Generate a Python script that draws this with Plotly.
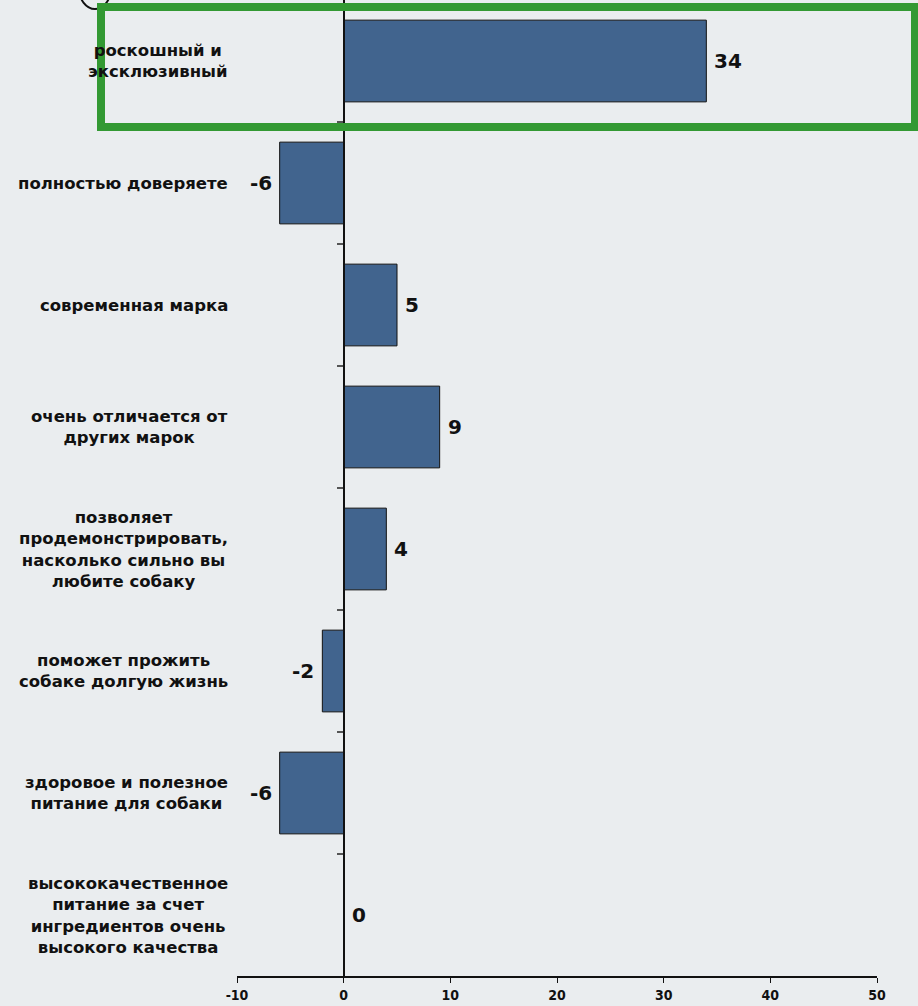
import plotly.graph_objects as go

categories = [
    "роскошный и<br>эксклюзивный",
    "полностью доверяете",
    "современная марка",
    "очень отличается от<br>других марок",
    "позволяет<br>продемонстрировать,<br>насколько сильно вы<br>любите собаку",
    "поможет прожить<br>собаке долгую жизнь",
    "здоровое и полезное<br>питание для собаки",
    "высококачественное<br>питание за счет<br>ингредиентов очень<br>высокого качества",
]
values = [34, -6, 5, 9, 4, -2, -6, 0]
x_ticks = [-10, 0, 10, 20, 30, 40, 50]
x_tick_labels = ["-10", "0", "10", "20", "30", "40", "50"]

BG = "#EAEDEF"
BAR = "#41648E"
W, H = 918, 1006
L, R, T, B = 237, 41, 0, 30
PW, PH = W - L - R, H - T - B

idx = list(range(len(categories)))

fig = go.Figure()
fig.add_trace(go.Bar(
    x=values, y=idx, orientation="h", width=0.67,
    marker=dict(color=BAR, line=dict(color="#111111", width=1)),
    hoverinfo="skip", showlegend=False,
))
# invisible trace to carry the zero-line axis with category boundary ticks
fig.add_trace(go.Scatter(x=[0], y=[0], yaxis="y2", mode="markers",
                         marker=dict(opacity=0), showlegend=False, hoverinfo="skip"))

annotations = []
for i, (c, v) in enumerate(zip(categories, values)):
    annotations.append(dict(
        x=0, xref="paper", y=i, yref="y", text=c, showarrow=False,
        xanchor="right", yanchor="middle", align="center", xshift=-7,
        font=dict(family="DejaVu Sans", size=16.5, color="#111111", weight="bold"),
    ))
    annotations.append(dict(
        x=v, xref="x", y=i, yref="y", text=str(v), showarrow=False,
        xanchor="right" if v < 0 else "left", yanchor="middle",
        xshift=-6 if v < 0 else 6,
        font=dict(family="DejaVu Sans", size=20, color="#111111", weight="bold"),
    ))

def px_x(p):
    return (p - L) / PW

def px_y(p):
    return 1 - (p - T) / PH

shapes = [
    dict(type="circle", xref="paper", yref="paper",
         x0=px_x(79), x1=px_x(111), y0=px_y(9), y1=px_y(-33),
         line=dict(color="#111111", width=2), layer="above"),
    dict(type="rect", xref="paper", yref="paper",
         x0=px_x(101), x1=px_x(915), y0=px_y(127), y1=px_y(7),
         line=dict(color="#339933", width=8), fillcolor="rgba(0,0,0,0)", layer="above"),
]

fig.update_layout(
    width=W, height=H,
    margin=dict(l=L, r=R, t=T, b=B, pad=0),
    paper_bgcolor=BG, plot_bgcolor=BG,
    showlegend=False,
    xaxis=dict(range=[-10, 50], tickvals=x_ticks, ticktext=x_tick_labels,
               showgrid=False, zeroline=False,
               showline=True, linecolor="#111111", linewidth=2,
               ticks="outside", ticklen=5, tickcolor="#111111", tickwidth=1,
               tickfont=dict(family="Liberation Sans Narrow, DejaVu Sans Condensed", size=14,
                             color="#111111", weight="bold"),
               fixedrange=True),
    yaxis=dict(range=[len(categories) - 0.5, -0.5], showticklabels=False, showgrid=False,
               zeroline=False, showline=False, ticks="", fixedrange=True),
    yaxis2=dict(overlaying="y", anchor="free", position=px_x(L + PW * 10 / 60),
                range=[len(categories) - 0.5, -0.5],
                tickvals=[i + 0.5 for i in idx[:-1]], showticklabels=False,
                ticks="outside", ticklen=6, tickcolor="#555555", tickwidth=2,
                showline=True, linecolor="#111111", linewidth=1.5, showgrid=False,
                zeroline=False, side="left", fixedrange=True),
    annotations=annotations,
    shapes=shapes,
)

fig.write_html("out.html")
